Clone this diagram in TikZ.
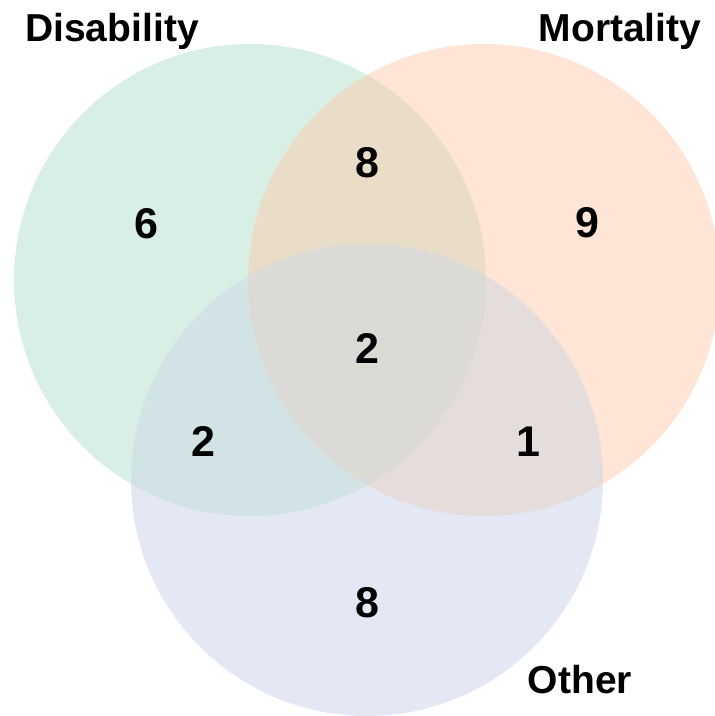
\documentclass[tikz,border=0pt]{standalone}
\usepackage{fontspec}
\setmainfont{Liberation Sans}
\usepackage{tikz}
\usetikzlibrary{positioning,calc}
% region colours
\definecolor{donly}{RGB}{216,239,230}
\definecolor{monly}{RGB}{254,229,214}
\definecolor{oonly}{RGB}{228,232,244}
\definecolor{dmfill}{RGB}{234,221,199}
\definecolor{dofill}{RGB}{210,227,230}
\definecolor{mofill}{RGB}{229,220,220}
\definecolor{dmofill}{RGB}{220,218,215}
\begin{document}
\begin{tikzpicture}[x=1pt, y=-1pt,
  setname/.style={font=\fontsize{39}{39}\selectfont\bfseries, anchor=base, inner sep=0pt},
  count/.style={font=\fontsize{43}{43}\selectfont\bfseries, anchor=base, inner sep=0pt}]
\useasboundingbox (0,0) rectangle (715,716);
\coordinate (dis) at (250,280);
\coordinate (mort) at (484,280);
\coordinate (oth) at (367,480);
\def\rad{236}
\begin{scope}
\clip (0,0) rectangle (715,716);
\fill[donly] (dis) circle (\rad);
\fill[monly] (mort) circle (\rad);
\fill[oonly] (oth) circle (\rad);
% pairwise overlaps
\begin{scope}
  \clip (dis) circle (\rad);
  \fill[dmfill] (mort) circle (\rad);
  \fill[dofill] (oth) circle (\rad);
\end{scope}
\begin{scope}
  \clip (mort) circle (\rad);
  \fill[mofill] (oth) circle (\rad);
  \clip (oth) circle (\rad);
  \fill[dmofill] (dis) circle (\rad);
\end{scope}
\end{scope}
\node[setname] (disname) at (112,41) {Disability};
\node[setname] (mortname) at (620,41) {Mortality};
\node[setname] (othname) at (580,693) {Other};
\foreach \n/\x/\y/\v in {d/146/238/6, dm/367/177/8, m/587/237/9, dmo/367/363/2,
                          do/203/456/2, mo/528/456/1, o/367/617/8} {
  \node[count] (n\n) at (\x,\y) {\v};
}
\end{tikzpicture}
\end{document}
